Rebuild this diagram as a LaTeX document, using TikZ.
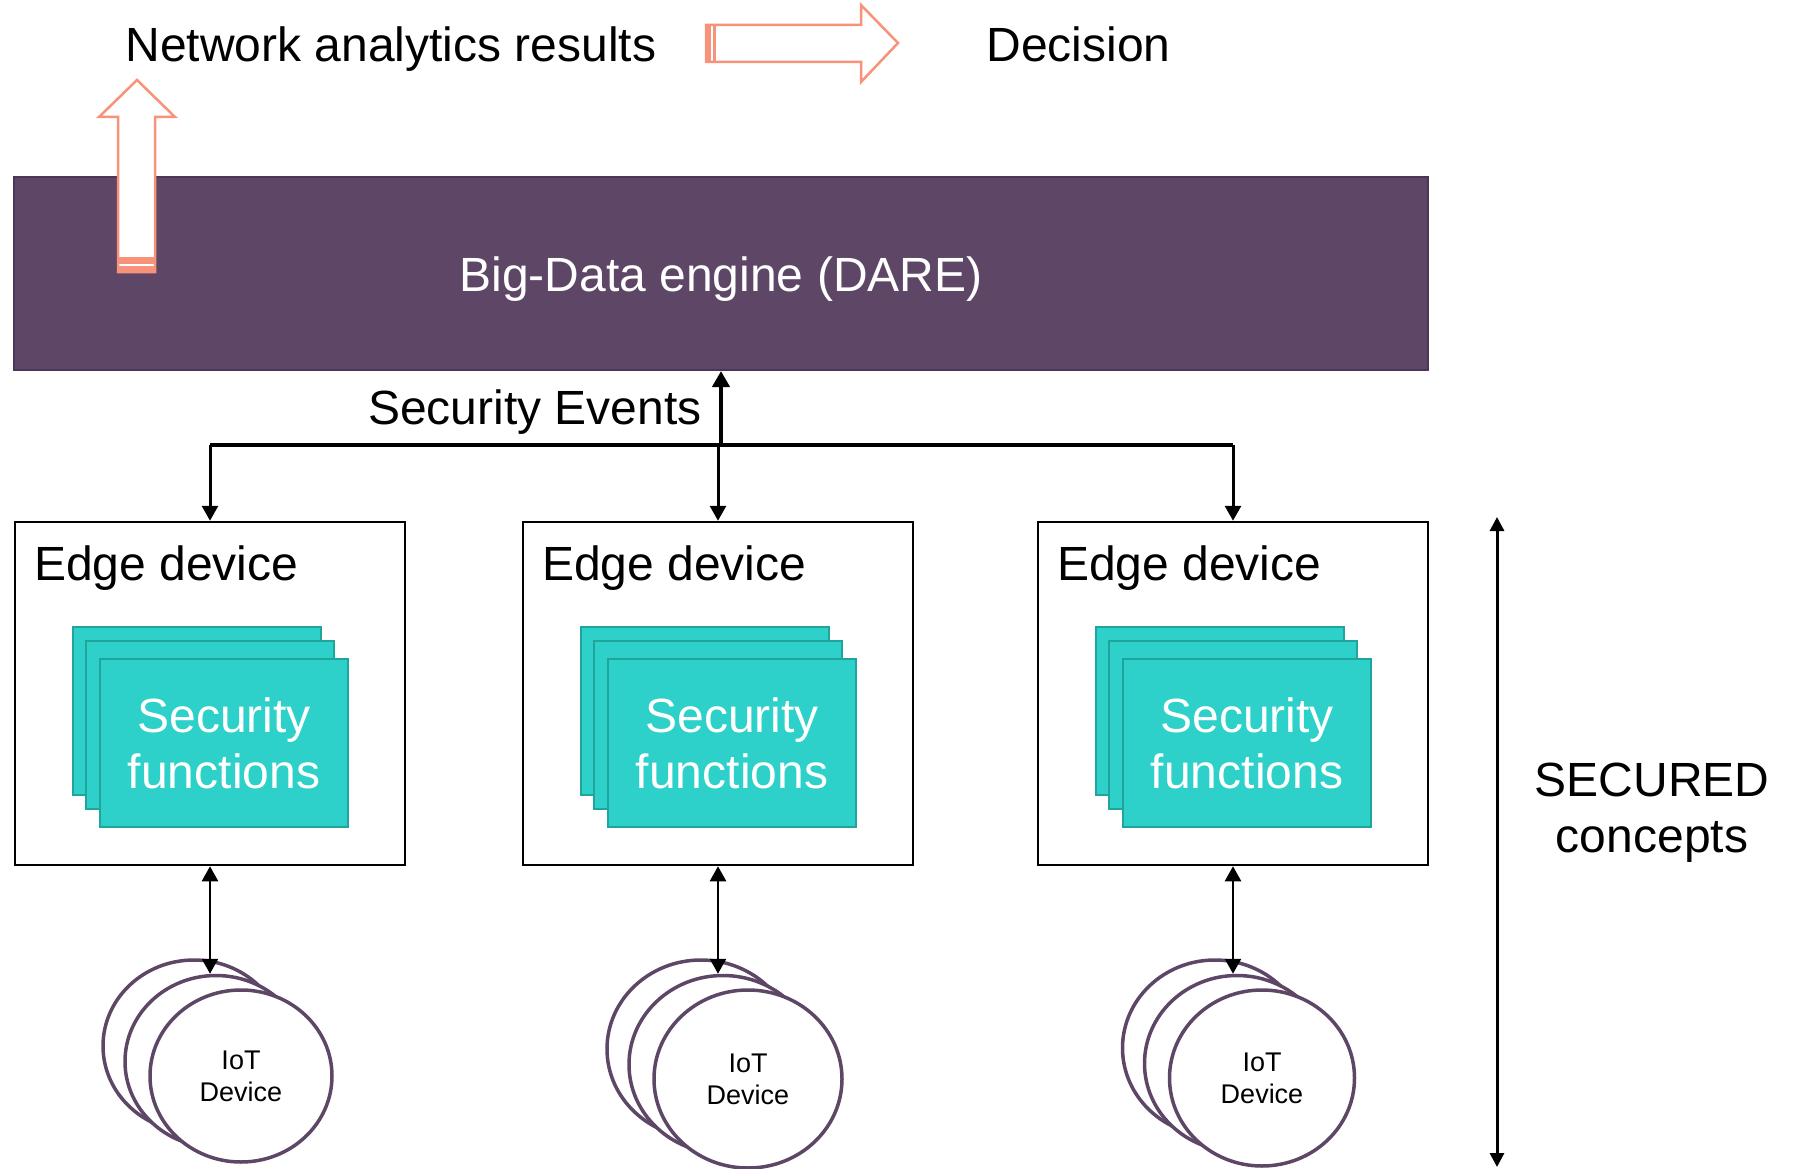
\documentclass[tikz,border=0pt]{standalone}
\usepackage{fontspec}
\setmainfont{Liberation Sans}
\usetikzlibrary{arrows.meta,shapes.geometric}
\definecolor{engine}{HTML}{5E4766}
\definecolor{engineD}{HTML}{4B3655}
\definecolor{teal}{HTML}{2DD1C9}
\definecolor{tealD}{HTML}{1FA59B}
\definecolor{iotrim}{HTML}{5E4766}
\definecolor{salmon}{HTML}{F7937A}
\begin{document}
\begin{tikzpicture}[x=1pt,y=-1pt,
  bigfont/.style={font=\fontsize{48}{56}\selectfont},
  edgebox/.style={draw=black,line width=2.5pt,fill=white,minimum width=390pt,minimum height=343pt,inner sep=0pt},
  secfn/.style={draw=tealD,line width=2pt,fill=teal,minimum width=248pt,minimum height=168pt,inner sep=0pt},
  iot/.style={ellipse,draw=iotrim,line width=3.5pt,fill=white,inner sep=0pt,font=\fontsize{27}{32}\selectfont,align=center},
  busdown/.style={line width=3pt,-{Triangle[length=15pt,width=16pt]}},
  link/.style={line width=2.5pt,{Triangle[length=15pt,width=16pt]}-{Triangle[length=15pt,width=16pt]}},
  blockarrow/.style={draw=salmon,line width=2.5pt,fill=white,line join=miter}
]
\useasboundingbox (0,0) rectangle (1794,1169);

% big-data engine
\node[draw=engineD,line width=2pt,fill=engine,minimum width=1414pt,minimum height=193pt,inner sep=0pt] (bd) at (721,273.5) {};
\node[bigfont,text=white,anchor=base,inner sep=0pt] (bdt) at (721,291) {Big-Data engine (DARE)};

% striped block arrow going up out of the engine
\draw[blockarrow] (137,80) -- (175,117) -- (155,117) -- (155,272) -- (118,272) -- (118,117) -- (99,117) -- cycle;
\fill[salmon] (118,257.5) rectangle (155,263.5);
\fill[salmon] (118,266) rectangle (155,272);

% striped block arrow pointing right
\draw[blockarrow] (706,25) -- (861,25) -- (861,5) -- (898,43) -- (861,82) -- (861,62) -- (706,62) -- cycle;
\fill[salmon] (706,25) rectangle (710.5,62);
\fill[salmon] (712.5,25) rectangle (715.5,62);

% top texts
\node[bigfont,anchor=base,inner sep=0pt] (nar) at (391,62) {Network analytics results};
\node[bigfont,anchor=base,inner sep=0pt] (dec) at (1078.5,62) {Decision};

% edge devices, security functions and IoT devices
\foreach \i/\dx/\bx/\w/\h in {1/0/194/182/172,2/508/701/188/178,3/1023/1215/185/176}{
  \node[edgebox] (e\i) at (210+\dx,693.5) {};
  \node[bigfont,anchor=base west,inner sep=0pt] (l\i) at (34+\dx,580) {Edge device};
  \node[secfn] (sa\i) at (196.5+\dx,711) {};
  \node[secfn] (sb\i) at (210+\dx,724.5) {};
  \node[secfn,bigfont,text=white,align=center] (sc\i) at (224+\dx,743) {Security\\functions};
  \node[iot,minimum width=\w pt,minimum height=\h pt] (ia\i) at (\bx,960+\h/2) {};
  \node[iot,minimum width=\w pt,minimum height=\h pt] (m\i) at (\bx+22,975.5+\h/2) {};
  \node[iot,minimum width=\w pt,minimum height=\h pt] (if\i) at (\bx+47,990+\h/2) {IoT\\Device};
  \draw[link] (e\i.south) -- (e\i.south |- m\i.north);
}

% security events bus
\coordinate (j) at (721,445);
\draw[line width=4pt,-{Triangle[length=16pt,width=17pt]}] (j) -- (bd.south);
\draw[line width=3.5pt] (e1.north |- j) -- (e3.north |- j);
\foreach \i in {1,2,3}
  \draw[busdown] (e\i.north |- j) -- (e\i.north);
\node[bigfont,anchor=base,inner sep=0pt] (sev) at (535,424) {Security Events};

% scope marker on the right
\coordinate (st) at (1497,517);
\coordinate (sb) at (1497,1167);
\draw[line width=3pt,{Triangle[length=14pt,width=14pt]}-{Triangle[length=14pt,width=14pt]}] (st) -- (sb);
\node[bigfont,align=center,inner sep=0pt] (sec) at (1652,813) {SECURED\\concepts};
\end{tikzpicture}
\end{document}
